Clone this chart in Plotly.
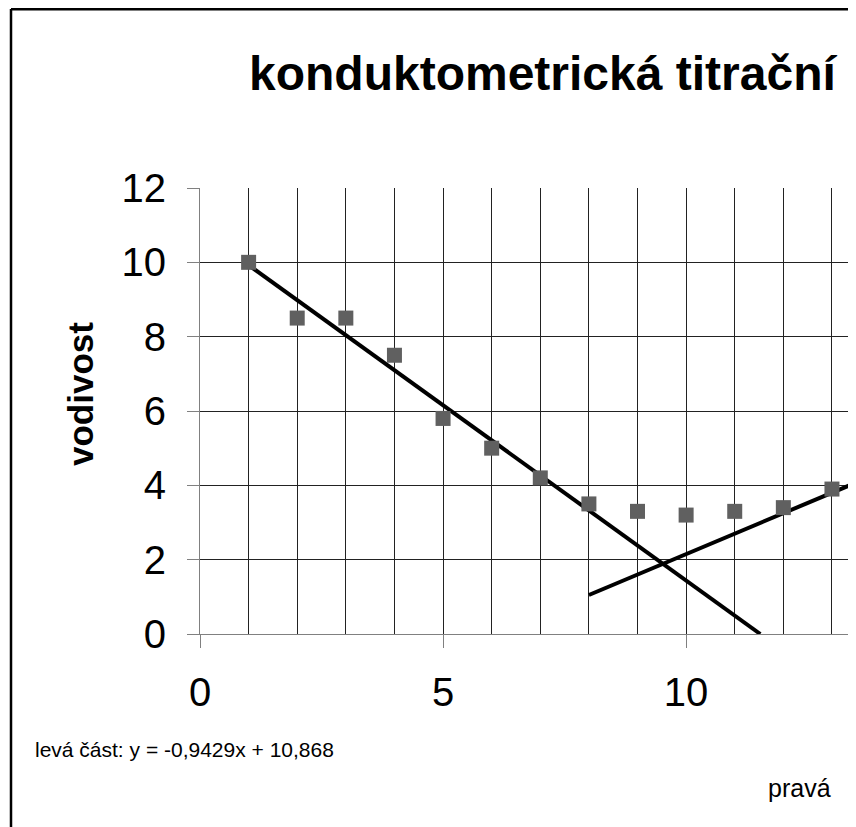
import plotly.graph_objects as go

# ---- data ----
titrant_volume = [1, 2, 3, 4, 5, 6, 7, 8, 9, 10, 11, 12, 13]
conductivity = [10.0, 8.5, 8.5, 7.5, 5.8, 5.0, 4.2, 3.5, 3.3, 3.2, 3.3, 3.4, 3.9]

left_slope, left_intercept = -0.9429, 10.868
left_x_start = 1
right_slope, right_intercept = 0.55, -3.35   # estimated (equation text cut off)
right_x_range = [8, 15]

title_text = "konduktometrická titrační"
y_title = "vodivost"
left_eq_text = "levá část: y = -0,9429x + 10,868"
right_eq_text = "pravá"

x_tickvals = [0, 5, 10]
y_tickvals = [0, 2, 4, 6, 8, 10, 12]

# ---- derived ----
left_x = [left_x_start, -left_intercept / left_slope]
left_y = [left_slope * x + left_intercept for x in left_x]
right_x = right_x_range
right_y = [right_slope * x + right_intercept for x in right_x]

FONT = "Liberation Sans, Arial, sans-serif"
OFF = 8  # page body margin offset
W, H = 856 - OFF, 827 - OFF
ML, MR, MT, MB = 200 - OFF, 8, 188 - OFF, 193
PW, PH = W - ML - MR, H - MT - MB

def px_x(p):
    return (p - OFF - ML) / PW

def px_y(p):
    return (H - MB - (p - OFF)) / PH

fig = go.Figure()
fig.add_trace(go.Scatter(x=left_x, y=left_y, mode="lines",
                         line=dict(color="black", width=4), showlegend=False))
fig.add_trace(go.Scatter(x=right_x, y=right_y, mode="lines",
                         line=dict(color="black", width=4), showlegend=False))
fig.add_trace(go.Scatter(x=titrant_volume, y=conductivity, mode="markers",
                         marker=dict(symbol="square", size=15, color="#606060"),
                         showlegend=False))

fig.update_layout(
    width=W, height=H,
    margin=dict(l=ML, r=MR, t=MT, b=MB, pad=0),
    paper_bgcolor="white", plot_bgcolor="white",
    font=dict(family=FONT, color="black"),
    xaxis=dict(range=[0, 13.33], tickvals=x_tickvals, showgrid=True,
               gridcolor="#222222", gridwidth=1,
               minor=dict(dtick=1, tick0=0, showgrid=True, gridcolor="#222222", gridwidth=1),
               ticks="outside", ticklen=13, tickcolor="#808080", tickwidth=1,
               showline=True, linecolor="#808080", linewidth=1, zeroline=False,
               tickfont=dict(size=40, family=FONT), ticklabelstandoff=10),
    yaxis=dict(range=[0, 12], tickvals=y_tickvals, showgrid=True,
               gridcolor="#222222", gridwidth=1,
               ticks="outside", ticklen=12, tickcolor="#808080", tickwidth=1,
               showline=True, linecolor="#808080", linewidth=1, zeroline=False,
               tickfont=dict(size=40, family=FONT), ticklabelstandoff=13),
)

fig.add_annotation(text=f"<b>{title_text}</b>", xref="paper", yref="paper",
                   x=px_x(247), y=px_y(73), xanchor="left", yanchor="middle",
                   showarrow=False, font=dict(size=48, family=FONT, color="black"))
fig.add_annotation(text=f"<b>{y_title}</b>", xref="paper", yref="paper",
                   x=px_x(80), y=px_y(394), xanchor="center", yanchor="middle",
                   textangle=-90, showarrow=False,
                   font=dict(size=35, family=FONT, color="black"))
fig.add_annotation(text=left_eq_text, xref="paper", yref="paper",
                   x=px_x(33), y=px_y(750), xanchor="left", yanchor="middle",
                   showarrow=False, font=dict(size=21, family=FONT, color="black"))
fig.add_annotation(text=right_eq_text, xref="paper", yref="paper",
                   x=px_x(766), y=px_y(788), xanchor="left", yanchor="middle",
                   showarrow=False, font=dict(size=25, family=FONT, color="black"))

# outer chart border (only left and top edges visible)
fig.add_shape(type="line", xref="paper", yref="paper",
              x0=px_x(11), x1=px_x(11), y0=px_y(9), y1=px_y(900),
              line=dict(color="black", width=2.5))
fig.add_shape(type="line", xref="paper", yref="paper",
              x0=px_x(11), x1=px_x(950), y0=px_y(9.2), y1=px_y(9.2),
              line=dict(color="black", width=2.5))

fig.write_html("out.html")
